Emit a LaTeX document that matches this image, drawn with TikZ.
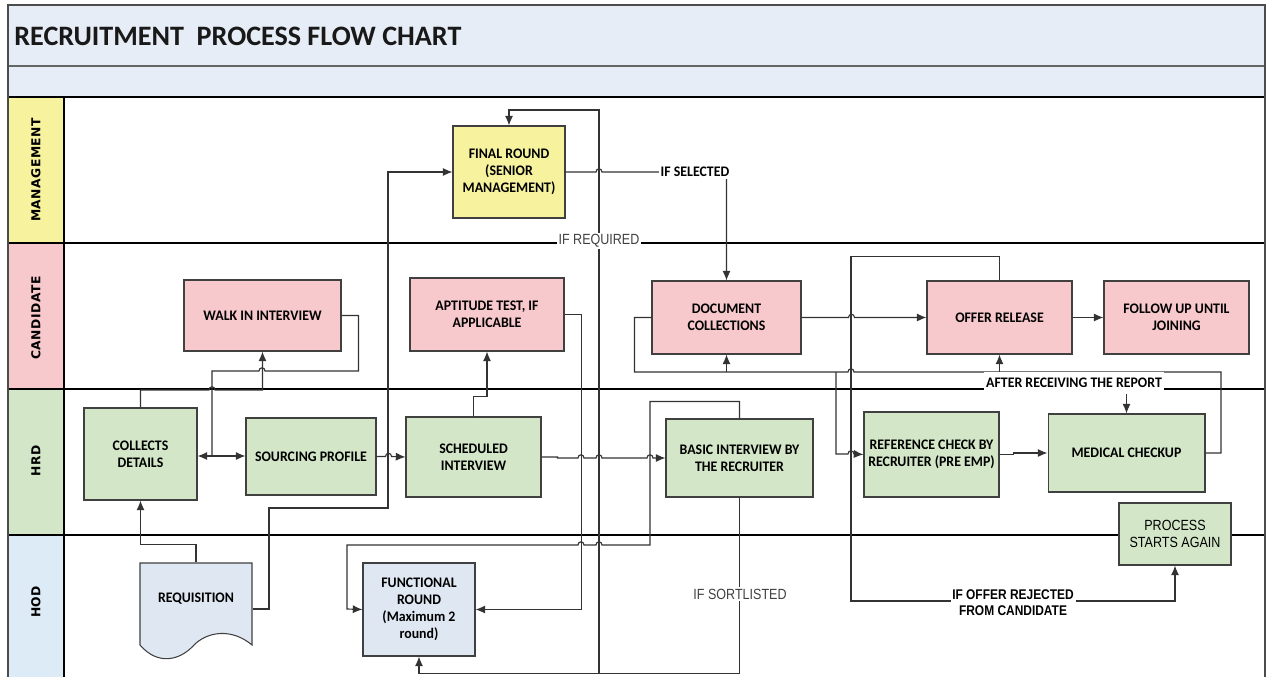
\documentclass[tikz,border=0pt]{standalone}
\usepackage{fontspec}
\setmainfont{Carlito}
\newfontfamily\boxfont[FakeStretch=0.95]{Carlito}
\newfontfamily\lanefont[LetterSpace=4]{DejaVu Sans}
\newfontfamily\narrowfont[FakeStretch=0.85]{Liberation Sans}
\usepackage{xcolor}
\usetikzlibrary{positioning,calc,arrows.meta}
\definecolor{titlebg}{HTML}{E6EDF6}
\definecolor{mgmt}{HTML}{F6F29D}
\definecolor{cand}{HTML}{F8C9CC}
\definecolor{hrd}{HTML}{D3E6C7}
\definecolor{hod}{HTML}{DDEBF7}
\definecolor{docblue}{HTML}{DFE7F2}
\definecolor{edge}{HTML}{404040}
\definecolor{wire}{HTML}{333333}

\begin{document}
\begin{tikzpicture}[x=0.02cm,y=-0.02cm,
    box/.style={draw=edge,line width=0.6pt,align=center,inner sep=1pt,
      font=\boxfont\bfseries\fontsize{8.3}{9.6}\selectfont},
    lane/.style={rotate=90,font=\lanefont\bfseries\fontsize{7}{8}\selectfont},
    wire/.style={draw=wire,line width=0.65pt},
    flow/.style={wire,-{Latex[length=5.5pt,width=4.6pt]}},
    hop/.style={out=90,in=90,looseness=1.8},
    tag/.style={fill=white,inner sep=1pt,font=\boxfont\bfseries\fontsize{8.3}{9.6}\selectfont},
    note/.style={fill=white,inner sep=1pt,text=black!75,font=\narrowfont\fontsize{8.4}{9.8}\selectfont}]
\useasboundingbox (0,0) rectangle (1268,677);
% title bands and swimlanes
\fill[titlebg] (8,5) rectangle (1265,97);
\fill[mgmt] (8,97) rectangle (64,243);
\fill[cand] (8,243) rectangle (64,389);
\fill[hrd] (8,389) rectangle (64,535);
\fill[hod] (8,535) rectangle (64,677);
\draw[black!60,line width=0.6pt] (8,66) -- (1265,66);
\foreach \y in {97,243,389,535} \draw[line width=0.8pt] (8,\y) -- (1265,\y);
\draw[black!70,line width=0.6pt] (8,677) |- (1265,5) -- (1265,677);
\draw[line width=0.6pt] (64,97) -- (64,677);
\node[anchor=west,inner sep=0pt,text=black!90,font=\bfseries\fontsize{16}{19}\selectfont] (title) at (14,36) {RECRUITMENT\ \ PROCESS FLOW CHART};
\node[lane] (lmgmt) at (36,170) {MANAGEMENT};
\node[lane] (lcand) at (36,318) {CANDIDATE};
\node[lane] (lhrd) at (36,461) {HRD};
\node[lane] (lhod) at (36,602) {HOD};

% steps
\node[box,fill=mgmt,minimum width=2.24cm,minimum height=1.84cm] (final) at (509,172) {FINAL ROUND\\(SENIOR\\MANAGEMENT)};
\node[box,fill=cand,minimum width=3.14cm,minimum height=1.42cm] (walk) at (262.5,315.5) {WALK IN INTERVIEW};
\node[box,fill=cand,minimum width=3.08cm,minimum height=1.46cm] (apt) at (487,314.5) {APTITUDE TEST, IF\\APPLICABLE};
\node[box,fill=cand,minimum width=2.98cm,minimum height=1.46cm] (doc) at (726.5,317.5) {DOCUMENT\\COLLECTIONS};
\node[box,fill=cand,minimum width=2.9cm,minimum height=1.46cm] (offer) at (999.5,317.5) {OFFER RELEASE};
\node[box,fill=cand,minimum width=2.9cm,minimum height=1.46cm] (follow) at (1176.5,317.5) {FOLLOW UP UNTIL\\JOINING};
\node[box,fill=hrd,minimum width=2.26cm,minimum height=1.84cm] (collects) at (140.5,454) {COLLECTS\\DETAILS};
\node[box,fill=hrd,minimum width=2.6cm,minimum height=1.54cm] (sourcing) at (311,456.5) {SOURCING PROFILE};
\node[box,fill=hrd,minimum width=2.7cm,minimum height=1.6cm] (sched) at (473.5,457) {SCHEDULED\\INTERVIEW};
\node[box,fill=hrd,minimum width=2.94cm,minimum height=1.56cm] (basic) at (739.5,458) {BASIC INTERVIEW BY\\THE RECRUITER};
\node[box,fill=hrd,minimum width=2.7cm,minimum height=1.7cm] (ref) at (931.5,454.5) {REFERENCE CHECK BY\\RECRUITER (PRE EMP)};
\node[box,fill=hrd,minimum width=3.14cm,minimum height=1.56cm] (med) at (1126.5,453) {MEDICAL CHECKUP};
\node[box,fill=hrd,minimum width=2.24cm,minimum height=1.24cm,font=\narrowfont\fontsize{8.4}{9.8}\selectfont] (again) at (1175,534) {PROCESS\\STARTS AGAIN};
\node[box,fill=docblue,minimum width=2.24cm,minimum height=1.86cm] (func) at (419,609.5) {FUNCTIONAL\\ROUND\\(Maximum 2\\round)};
\filldraw[draw=edge,fill=docblue,line width=0.6pt] (140,645) |- (252,563) -- (252,645) .. controls (232,628) and (207,631) .. (193,646) .. controls (180,660) and (158,666) .. (140,645) -- cycle;
\node[box,draw=none,minimum width=2.24cm,minimum height=1.44cm] (req) at (196,599) {REQUISITION};

% connectors
\draw[flow] (req.north) -- ++(0,-18) -| (collects.south);
\draw[flow] ($(req.east)+(0,10)$) -| (269,508) -| (388,172) -- (final.west);
\coordinate (split) at (212,456);
\draw[wire] (walk.east) -- ++(17,0) |- (265,371) to[hop] (259,371) -| (split);
\draw[flow] (split) -- (split -| collects.east);
\draw[flow] (split) -- (split -| sourcing.west);
\draw[flow] (collects.north) |- (209,390) to[hop] (215,390) -| (walk.south);
\draw[flow] (sourcing.east) -- ++(9,0) to[hop] ++(6,0) -- (sched.west);
\draw[flow] (sched.north) -- ++(0,-20) -| (apt.south);
\draw[flow] (apt.east) -- ++(17,0) |- (func.east);
\draw[flow] (sched.east) -- ++(16,0) -- ++(0,1) -- (578,458) to[hop] (584,458) -- (596,458) to[hop] (602,458) -- (647,458) to[hop] (653,458) -- (basic.west);
\coordinate (fork) at (599,673);
\draw[flow] (basic.south) -- ++(0,176) -| (func.south);
\draw[flow] (fork) -- (599,110) -| (final.north);
\draw[flow] (basic.north) -- ++(0,-17) -| (650,545) -- (602,545) to[hop] (596,545) -- (584,545) to[hop] (578,545) -| (347,609) -- (func.west);
\draw[flow] (final.east) -- (596,172) to[hop] (602,172) -| (doc.north);
\draw[flow] (doc.east) -- ++(47,0) to[hop] ++(6,0) -- (offer.west);
\draw[flow] (offer.east) -- (follow.west);
\coordinate (rep) at (0,372);
\draw[wire] (doc.west) -- ++(-17,0) |- (848,372) to[hop] (854,372) -| (1221,453) -- (med.east);
\draw[flow] (doc.south |- rep) -- (doc.south);
\draw[flow] (offer.south |- rep) -- (offer.south);
\draw[flow] (med.north |- rep) -- (med.north);
\draw[flow] (836,372) |- (848,454) to[hop] (854,454) -- (ref.west);
\draw[flow] (ref.east) -- ++(14,0) |- (med.west);
\draw[flow] (offer.north) -- ++(0,-24) -| (851,601) -| (again.south);

% labels on connectors
\node[note] (ifreq) at (599,241) {IF REQUIRED};
\node[note] (ifshort) at (740,594) {IF SORTLISTED};
\node[tag] (ifsel) at (695,172) {IF SELECTED};
\node[tag,minimum height=0.44cm] (report) at (1074,383) {AFTER RECEIVING THE REPORT};
\node[tag,align=center,font=\narrowfont\bfseries\fontsize{8}{9.2}\selectfont] (reject) at (1013,603) {IF OFFER REJECTED\\FROM CANDIDATE};
\end{tikzpicture}
\end{document}
